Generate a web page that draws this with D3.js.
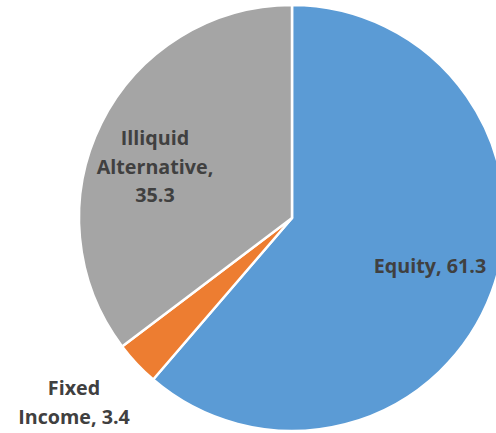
<!DOCTYPE html>
<html>
<head>
<meta charset="utf-8">
<script src="https://cdn.jsdelivr.net/npm/d3@7"></script>
<style>
  html, body { margin: 0; padding: 0; background: #fff; overflow: hidden; }
  svg { display: block; }
</style>
</head>
<body>
<svg id="chart" width="496" height="433"></svg>
<script>
// Asset allocation shares (percent)
const categories = ["Equity", "Fixed Income", "Illiquid Alternative"];
const values = [61.3, 3.4, 35.3];
const colors = ["#5B9BD5", "#ED7D31", "#A5A5A5"];
// Data label lines and their anchor points (centre x, first baseline y)
const labelLines = [
  ["Equity, 61.3"],
  ["Fixed", "Income, 3.4"],
  ["Illiquid", "Alternative,", "35.3"]
];
const labelAnchors = [[430, 273], [74, 395], [155, 145]];

const svg = d3.select("#chart");
const cx = 292, cy = 218, r = 213;

const pie = d3.pie().sort(null).value(d => d)
  .startAngle(0).endAngle(2 * Math.PI);
const arcs = pie(values);
const arc = d3.arc().innerRadius(0).outerRadius(r);

const g = svg.append("g").attr("transform", `translate(${cx},${cy})`);
g.selectAll("path.slice")
  .data(arcs)
  .join("path")
  .attr("class", "slice")
  .attr("d", arc)
  .attr("fill", (d, i) => colors[i])
  .attr("stroke", "#fff")
  .attr("stroke-width", 2.5)
  .attr("stroke-linejoin", "round");

const lineGap = 28.5;
labelLines.forEach((lines, i) => {
  const t = svg.append("text")
    .attr("text-anchor", "middle")
    .attr("font-family", "'Open Sans', Lato, sans-serif")
    .attr("font-weight", "bold")
    .attr("font-size", 19.7)
    .style("font-variant-ligatures", "none")
    .attr("fill", "#404040");
  lines.forEach((s, j) => {
    t.append("tspan")
      .attr("x", labelAnchors[i][0])
      .attr("y", labelAnchors[i][1] + j * lineGap)
      .text(s);
  });
});
</script>
</body>
</html>
